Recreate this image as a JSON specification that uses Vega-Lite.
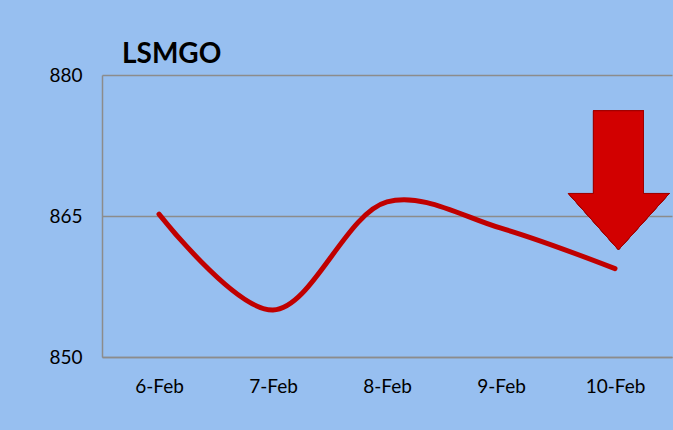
{
  "$schema": "https://vega.github.io/schema/vega-lite/v6.json",
  "autosize": "none",
  "width": 570,
  "height": 282,
  "padding": {"left": 102, "top": 75, "right": 1, "bottom": 73},
  "background": "#97BFF0",
  "title": {
    "text": "LSMGO",
    "anchor": "start",
    "frame": "group",
    "dx": 20,
    "offset": -3,
    "font": "Lato",
    "fontSize": 28,
    "fontWeight": "bold",
    "color": "#000000"
  },
  "data": {
    "values": [
      {"date": "6-Feb", "price": 865.2},
      {"date": "7-Feb", "price": 855.0},
      {"date": "8-Feb", "price": 866.5},
      {"date": "9-Feb", "price": 863.7},
      {"date": "10-Feb", "price": 859.4}
    ]
  },
  "config": {
    "view": {"stroke": null},
    "axis": {"labelFont": "Lato", "labelFontSize": 19, "labelColor": "#000000"}
  },
  "layer": [
    {
      "mark": {"type": "line", "color": "#C00000", "strokeWidth": 5, "interpolate": "catmull-rom", "strokeCap": "round"},
      "encoding": {
        "x": {
          "field": "date", "type": "ordinal", "sort": null,
          "scale": {"padding": 0.5},
          "axis": {"title": null, "labelAngle": 0, "ticks": false, "labelPadding": 20, "domainColor": "#8C8C8C", "domainWidth": 1.5, "grid": false}
        },
        "y": {
          "field": "price", "type": "quantitative",
          "scale": {"domain": [850, 880], "nice": false, "zero": false},
          "axis": {"title": null, "values": [850, 865, 880], "ticks": false, "labelPadding": 20, "domainColor": "#8C8C8C", "domainWidth": 1.5, "gridColor": "#8C8C8C", "gridWidth": 1.5, "gridOpacity": 1}
        }
      }
    },
    {
      "mark": {
        "type": "point",
        "shape": "M-0.31,-1 L0.41,-1 L0.41,0.19 L0.78,0.19 L0.05,1 L-0.67,0.19 L-0.31,0.19 Z",
        "size": 19321,
        "filled": true,
        "fill": "#D20000",
        "stroke": "#9E0000",
        "strokeWidth": 1,
        "opacity": 1
      },
      "encoding": {
        "x": {"datum": "10-Feb", "type": "ordinal"},
        "y": {"datum": 868.8, "type": "quantitative"}
      }
    }
  ]
}
